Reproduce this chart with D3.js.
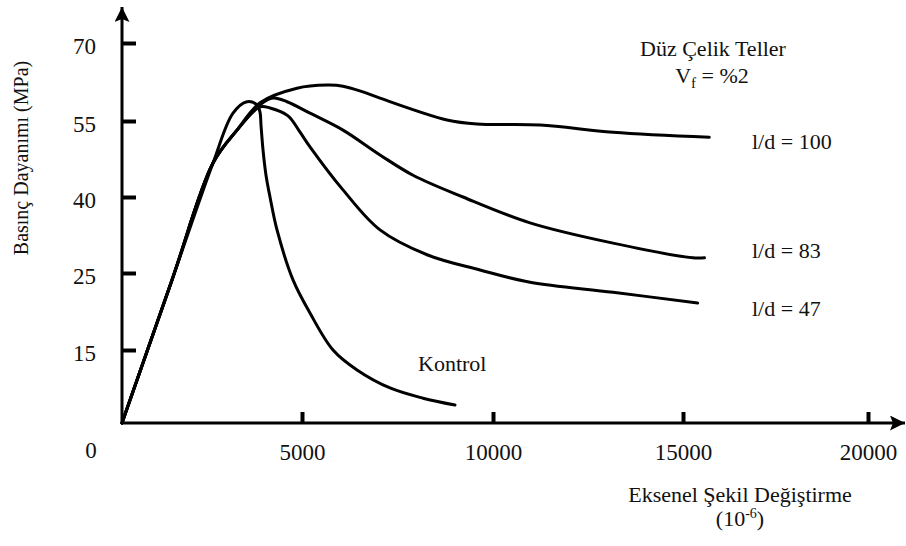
<!DOCTYPE html>
<html>
<head>
<meta charset="utf-8">
<script src="https://cdn.jsdelivr.net/npm/d3@7"></script>
<style>
  body { margin: 0; background: #fff; }
  text { font-family: "Liberation Serif", "Times New Roman", serif; fill: #111; }
</style>
</head>
<body>
<svg id="chart"></svg>
<script>
// strain (10^-6) and stress (MPa)
const kontrolStrain = [0, 1389, 2528, 3084, 3472, 3750, 3834, 3861, 3917, 4000, 4111, 4306, 4750, 5209, 5812, 6440, 7304, 8168, 9005];
const kontrolStress = [0, 24.1, 46.7, 56.5, 58.7, 58.1, 56.7, 54.2, 49.3, 44.3, 40.0, 33.5, 24.1, 19.8, 15.0, 10.9, 7.2, 5.1, 3.7];

const ld47Strain = [0, 1389, 2528, 3195, 3834, 4111, 4611, 4945, 5209, 6073, 7042, 8273, 9660, 10974, 13158, 15396];
const ld47Stress = [0, 24.1, 46.7, 53.2, 57.7, 57.5, 56.0, 52.8, 49.9, 41.4, 33.5, 28.6, 25.6, 23.8, 22.5, 21.1];

const ld83Strain = [0, 1389, 2528, 3195, 3834, 4195, 4584, 5209, 6073, 7042, 7906, 9215, 10974, 13158, 15264, 15580];
const ld83Stress = [0, 24.1, 46.7, 53.2, 58.1, 59.4, 58.7, 56.5, 53.2, 48.3, 44.3, 40.0, 34.9, 30.9, 28.0, 28.0];

const ld100Strain = [0, 1389, 2528, 3195, 3834, 4862, 5655, 6073, 6597, 7042, 8796, 9582, 11237, 13158, 15711];
const ld100Stress = [0, 24.1, 46.7, 53.2, 58.5, 61.3, 61.9, 61.7, 60.6, 59.4, 55.2, 54.4, 54.2, 52.8, 51.8];

const xTickValues = [5000, 10000, 15000, 20000];
const yTickValues = [15, 25, 40, 55, 70];   // drawn equally spaced, as in the original figure

const curveLabels = ["Kontrol", "l/d = 47", "l/d = 83", "l/d = 100"];

const width = 906, height = 546;

const svg = d3.select("#chart")
  .attr("width", width)
  .attr("height", height);

// the original axes are not uniform, so both scales are piecewise
const x = d3.scaleLinear()
  .domain([0, 5000, 10000, 15000, 20000])
  .range([122, 302, 493, 683, 868]);

const y = d3.scaleLinear()
  .domain([0, 15, 25, 40, 55, 70])
  .range([423, 350, 273, 197, 121, 43]);

svg.append("defs").append("marker")
  .attr("id", "arrow")
  .attr("viewBox", "0 0 10 10")
  .attr("refX", 10).attr("refY", 5)
  .attr("markerWidth", 5).attr("markerHeight", 5)
  .attr("markerUnits", "strokeWidth")
  .attr("orient", "auto")
  .append("path")
  .attr("d", "M0,0 L10,5 L0,10 L2,5 Z")
  .attr("fill", "#000");

// axes lines with arrows
svg.append("line")
  .attr("x1", x(0)).attr("y1", y(0))
  .attr("x2", x(0)).attr("y2", 7)
  .attr("stroke", "#000").attr("stroke-width", 3)
  .attr("marker-end", "url(#arrow)");

svg.append("line")
  .attr("x1", x(0) - 1).attr("y1", y(0))
  .attr("x2", 905).attr("y2", y(0))
  .attr("stroke", "#000").attr("stroke-width", 3)
  .attr("marker-end", "url(#arrow)");

const yAxis = svg.append("g")
  .attr("transform", `translate(${x(0)},0)`)
  .call(d3.axisLeft(y).tickValues(yTickValues).tickSize(-14).tickPadding(26).tickFormat(d3.format("d")));

const xAxis = svg.append("g")
  .attr("transform", `translate(0,${y(0)})`)
  .call(d3.axisBottom(x).tickValues(xTickValues).tickSize(-11).tickPadding(21).tickFormat(d3.format("d")));

[yAxis, xAxis].forEach(g => {
  g.select(".domain").remove();
  g.selectAll(".tick line").attr("stroke", "#000").attr("stroke-width", 4);
  g.selectAll(".tick text")
    .style("font-family", '"Liberation Serif", serif')
    .style("font-size", "23px")
    .attr("fill", "#111");
});
yAxis.selectAll(".tick text").attr("dy", "0.45em");

svg.append("text")
  .attr("x", 91).attr("y", 458)
  .attr("text-anchor", "middle")
  .style("font-size", "23px")
  .text("0");

// curves
const line = d3.line()
  .x(d => x(d[0]))
  .y(d => y(d[1]))
  .curve(d3.curveCatmullRom.alpha(0.5));

const series = [
  d3.zip(kontrolStrain, kontrolStress),
  d3.zip(ld47Strain, ld47Stress),
  d3.zip(ld83Strain, ld83Stress),
  d3.zip(ld100Strain, ld100Stress)
];

svg.append("g")
  .selectAll("path")
  .data(series)
  .join("path")
    .attr("d", line)
    .attr("fill", "none")
    .attr("stroke", "#000")
    .attr("stroke-width", 3)
    .attr("stroke-linejoin", "round")
    .attr("stroke-linecap", "round");

// curve labels
const labelPos = [[418, 371], [752, 316], [752, 258], [752, 149]];
svg.append("g")
  .selectAll("text")
  .data(curveLabels)
  .join("text")
    .attr("x", (d, i) => labelPos[i][0])
    .attr("y", (d, i) => labelPos[i][1])
    .style("font-size", "22px")
    .text(d => d);

// title block
svg.append("text")
  .attr("x", 713).attr("y", 56)
  .attr("text-anchor", "middle")
  .style("font-size", "22px")
  .text("Düz Çelik Teller");

const vf = svg.append("text")
  .attr("x", 712).attr("y", 83)
  .attr("text-anchor", "middle")
  .style("font-size", "22px");
vf.append("tspan").text("V");
vf.append("tspan").attr("dy", 5).style("font-size", "15px").text("f");
vf.append("tspan").attr("dy", -5).text(" = %2");

// axis titles
svg.append("text")
  .attr("x", 740).attr("y", 502)
  .attr("text-anchor", "middle")
  .style("font-size", "22px")
  .text("Eksenel Şekil Değiştirme");

const unit = svg.append("text")
  .attr("x", 740).attr("y", 526)
  .attr("text-anchor", "middle")
  .style("font-size", "22px");
unit.append("tspan").text("(10");
unit.append("tspan").attr("dy", -8).style("font-size", "14px").text("-6");
unit.append("tspan").attr("dy", 8).text(")");

svg.append("text")
  .attr("transform", "translate(28,158) rotate(-90)")
  .attr("text-anchor", "middle")
  .style("font-size", "20px")
  .text("Basınç Dayanımı (MPa)");
</script>
</body>
</html>
